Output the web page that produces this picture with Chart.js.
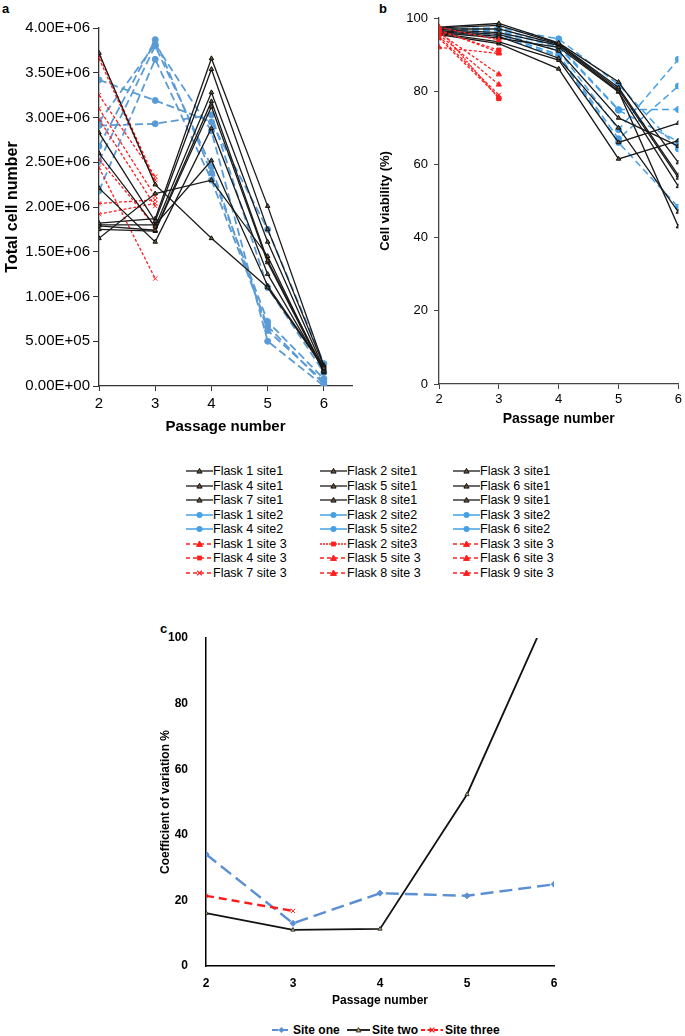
<!DOCTYPE html>
<html>
<head>
<meta charset="utf-8">
<script src="https://cdn.jsdelivr.net/npm/chart.js@4.4.0/dist/chart.umd.min.js"></script>
<style>
    body { margin: 0; background: #fff; font-family: "Liberation Sans", Arial, sans-serif; color: #000; }
    #page { position: relative; width: 685px; height: 1036px; overflow: hidden; }
    canvas { position: absolute; }
    .tag { position: absolute; font-weight: bold; font-size: 13px; line-height: 13px; }
    .leg { position: absolute; font-size: 12.5px; white-space: nowrap; display: flex; align-items: center; height: 14px; }
    .legc { position: absolute; font-size: 12px; font-weight: bold; white-space: nowrap; display: flex; align-items: center; height: 14px; }
    .leg svg, .legc svg { flex: none; }
</style>
</head>
<body>
<div id="page">
    <div class="tag" style="left:2px;top:2px">a</div>
    <div class="tag" style="left:379px;top:2px">b</div>
    <div class="tag" style="left:160px;top:622px">c</div>
    <canvas id="chartA" width="360" height="440" style="left:0;top:0"></canvas>
    <canvas id="chartB" width="345" height="430" style="left:340px;top:0"></canvas>
    <canvas id="chartC" width="434" height="402" style="left:140px;top:610px"></canvas>
    <div id="legendAB"></div>
    <div id="legendC"></div>
</div>
<script>
// --- data ---
const passages = [2, 3, 4, 5, 6];
const passagesSite3 = [2, 3];

// a) total cell number, one row per flask (P2..P6)
const cellsSite1 = [
    [3.72e6, 2.25e6, 1.65e6, 1.10e6, 0.20e6],
    [2.83e6, 1.84e6, 3.54e6, 1.75e6, 0.22e6],
    [2.60e6, 1.78e6, 3.28e6, 1.61e6, 0.19e6],
    [2.21e6, 1.61e6, 2.88e6, 1.25e6, 0.17e6],
    [1.82e6, 1.87e6, 3.66e6, 2.01e6, 0.23e6],
    [1.79e6, 1.74e6, 3.18e6, 1.40e6, 0.18e6],
    [1.75e6, 1.73e6, 3.12e6, 1.38e6, 0.16e6],
    [1.65e6, 2.15e6, 2.30e6, 1.45e6, 0.15e6],
    [1.80e6, 1.80e6, 2.52e6, 1.12e6, 0.21e6]
];
const cellsSite2 = [
    [3.42e6, 3.19e6, 2.95e6, 1.75e6, 0.25e6],
    [2.91e6, 2.93e6, 3.03e6, 1.10e6, 0.15e6],
    [2.68e6, 3.87e6, 2.38e6, 0.72e6, 0.08e6],
    [2.51e6, 3.80e6, 2.45e6, 0.62e6, 0.05e6],
    [2.18e6, 3.65e6, 2.30e6, 0.67e6, 0.02e6],
    [2.95e6, 3.82e6, 2.85e6, 0.50e6, 0.00e6]
];
const cellsSite3 = [
    [3.70e6, 2.30e6],
    [3.66e6, 2.27e6],
    [3.25e6, 2.34e6],
    [3.10e6, 2.12e6],
    [2.98e6, 2.01e6],
    [2.53e6, 1.78e6],
    [2.44e6, 1.20e6],
    [2.04e6, 2.08e6],
    [1.92e6, 2.04e6]
];

// b) cell viability (%)
const viabSite1 = [
    [97.5, 98.5, 93.2, 82.5, 60.5],
    [97.3, 98.0, 93.0, 81.0, 57.0],
    [97.0, 97.0, 92.8, 80.5, 56.3],
    [96.8, 96.0, 92.5, 80.0, 43.0],
    [96.5, 95.5, 91.0, 72.7, 65.0],
    [96.3, 95.0, 89.0, 70.0, 47.0],
    [96.0, 94.5, 92.0, 79.8, 54.0],
    [95.8, 93.5, 88.5, 66.0, 71.3],
    [95.5, 93.0, 86.1, 61.5, 66.5]
];
const viabSite2 = [
    [97.0, 97.3, 94.3, 81.8, 64.2],
    [96.8, 97.0, 92.5, 75.0, 75.0],
    [96.5, 96.5, 92.0, 74.8, 66.2],
    [96.3, 96.0, 91.0, 69.5, 88.7],
    [96.0, 95.5, 90.0, 67.0, 81.4],
    [95.8, 95.0, 89.5, 66.0, 48.3]
];
const viabSite3 = [
    [97.5, 94.0],
    [97.0, 78.0],
    [96.8, 90.6],
    [96.5, 91.2],
    [96.0, 84.6],
    [95.5, 81.8],
    [95.0, 79.0],
    [94.5, 78.4],
    [92.0, 90.3]
];

// c) coefficient of variation %
const cvSiteOne = [34.1, 13.0, 22.2, 21.4, 24.9];
const cvSiteTwo = [16.1, 11.0, 11.3, 52.3, 111.6];
const cvSiteThree = [21.4, 16.8];

const cellTicks = [0, 5e5, 1e6, 1.5e6, 2e6, 2.5e6, 3e6, 3.5e6, 4e6];
const site3Markers = ['triangle', 'rect', 'triangle', 'rect', 'triangle', 'triangle', 'crossRot', 'triangle', 'triangle'];

const FONT = '"Liberation Sans", Arial, sans-serif';
Chart.defaults.font.family = FONT;
Chart.defaults.color = '#000';

// --- styles ---
const styleSite1 = { color: '#1a1a1a', dash: [], width: 1.3, point: 'triangle', radius: 2.6, fill: '#6a5434', pointBorder: '#111' };
const styleSite2a = { color: '#5b9bd5', dash: [8, 4], width: 1.8, point: 'circle', radius: 3, fill: '#5b9bd5', pointBorder: '#5b9bd5' };
const styleSite2b = { color: '#45a0e6', dash: [7, 4], width: 1.5, point: 'circle', radius: 3, fill: '#45a0e6', pointBorder: '#45a0e6' };
const styleSite3 = (marker) => ({ color: '#ff1e1e', dash: [3, 2], width: 1.3, point: marker, radius: 3, fill: '#ff1e1e', pointBorder: '#ff1e1e' });

function sci(v) {
    if (v === 0) return '0.00E+00';
    const e = Math.floor(Math.log10(v) + 1e-9);
    const m = v / Math.pow(10, e);
    return m.toFixed(2) + 'E+' + String(e).padStart(2, '0');
}

function series(values, xs, st) {
    return {
        data: values.map((v, i) => ({ x: xs[i], y: v })),
        borderColor: st.color,
        backgroundColor: st.fill,
        borderWidth: st.width,
        borderDash: st.dash,
        pointStyle: st.point,
        pointRadius: st.radius,
        pointBorderColor: st.pointBorder,
        pointBackgroundColor: st.fill,
        pointBorderWidth: 1,
        tension: 0,
        fill: false
    };
}

function onlyIntegers(scale) {
    scale.ticks = scale.ticks.filter(t => Number.isInteger(t.value));
}

// --- panel a --- (first dataset ends up on top)
const dsA = [];
cellsSite1.forEach(row => dsA.push(series(row, passages, styleSite1)));
cellsSite3.forEach(row => dsA.push(series(row, passagesSite3, styleSite3('crossRot'))));
cellsSite2.forEach(row => dsA.push(series(row, passages, styleSite2a)));

new Chart(document.getElementById('chartA'), {
    type: 'line',
    data: { datasets: dsA },
    options: {
        responsive: false, animation: false, devicePixelRatio: 1,
        layout: { padding: { left: 0, top: 28, right: 8, bottom: 0 } },
        plugins: { legend: { display: false }, tooltip: { enabled: false } },
        scales: {
            x: {
                type: 'linear', min: 2, max: 6.5,
                afterBuildTicks: onlyIntegers,
                afterFit: s => { s.height = 54; },
                ticks: { stepSize: 1, includeBounds: false, padding: 4, font: { size: 15 }, color: '#000' },
                grid: { drawOnChartArea: false, drawTicks: true, tickLength: 5, color: '#333' },
                border: { color: '#333', width: 1.3 },
                title: { display: true, text: 'Passage number', font: { size: 15, weight: 'bold' }, color: '#000', padding: { top: 4, bottom: 4 } }
            },
            y: {
                min: 0, max: 4e6,
                afterBuildTicks: s => { s.ticks = cellTicks.map(v => ({ value: v })); },
                afterFit: s => { s.width = 99; },
                ticks: { callback: v => sci(v), padding: 3, font: { size: 15 }, color: '#000' },
                grid: { drawOnChartArea: false, drawTicks: true, tickLength: 6, color: '#333' },
                border: { color: '#333', width: 1.3 },
                title: { display: true, text: 'Total cell number', font: { size: 16, weight: 'bold' }, color: '#000', padding: { top: 3, bottom: 4 } }
            }
        }
    }
});

// --- panel b ---
const dsB = [];
viabSite3.forEach((row, i) => dsB.push(series(row, passagesSite3, Object.assign(styleSite3(site3Markers[i]), i === 1 ? { dash: [2, 1] } : {}))));
viabSite1.forEach(row => dsB.push(series(row, passages, styleSite1)));
viabSite2.forEach(row => dsB.push(series(row, passages, styleSite2b)));

new Chart(document.getElementById('chartB'), {
    type: 'line',
    data: { datasets: dsB },
    options: {
        responsive: false, animation: false, devicePixelRatio: 1,
        layout: { padding: { left: 34, top: 18, right: 6, bottom: 0 } },
        plugins: { legend: { display: false }, tooltip: { enabled: false } },
        scales: {
            x: {
                type: 'linear', min: 2, max: 6,
                afterBuildTicks: onlyIntegers,
                afterFit: s => { s.height = 46; },
                ticks: { stepSize: 1, padding: 3, font: { size: 13 }, color: '#000' },
                grid: { drawOnChartArea: false, drawTicks: true, tickLength: 5, color: '#444' },
                border: { color: '#444', width: 1.3 },
                title: { display: true, text: 'Passage number', font: { size: 14, weight: 'bold' }, color: '#000', padding: { top: 0, bottom: 2 } }
            },
            y: {
                min: 0, max: 100,
                afterFit: s => { s.width = 65; },
                ticks: { stepSize: 20, padding: 6, font: { size: 13 }, color: '#000' },
                grid: { drawOnChartArea: false, drawTicks: true, tickLength: 5, color: '#444' },
                border: { color: '#444', width: 1.3 },
                title: { display: true, text: 'Cell viability (%)', font: { size: 13, weight: 'bold' }, color: '#000', padding: { top: 4, bottom: 4 } }
            }
        }
    }
});

// --- panel c ---
const styleCvOne = { color: '#5b8fd4', dash: [13, 6], width: 2.4, point: 'rectRot', radius: 3, fill: '#5b8fd4', pointBorder: '#5b8fd4' };
const styleCvTwo = { color: '#111', dash: [], width: 1.8, point: 'triangle', radius: 2.4, fill: '#c8b46a', pointBorder: '#333' };
const styleCvThree = { color: '#ff1a1a', dash: [8, 5], width: 2.4, point: 'crossRot', radius: 3, fill: '#ff1a1a', pointBorder: '#ff1a1a' };

new Chart(document.getElementById('chartC'), {
    type: 'line',
    data: {
        datasets: [
            series(cvSiteThree, passagesSite3, styleCvThree),
            series(cvSiteOne, passages, styleCvOne),
            series(cvSiteTwo, passages, styleCvTwo)
        ]
    },
    options: {
        responsive: false, animation: false, devicePixelRatio: 1,
        layout: { padding: { left: 14, top: 28, right: 20, bottom: 0 } },
        plugins: { legend: { display: false }, tooltip: { enabled: false } },
        scales: {
            x: {
                type: 'linear', min: 2, max: 6,
                afterBuildTicks: onlyIntegers,
                afterFit: s => { s.height = 46; },
                ticks: { stepSize: 1, padding: 2, font: { size: 12, weight: 'bold' }, color: '#000' },
                grid: { display: false },
                border: { color: '#000', width: 1.5 },
                title: { display: true, text: 'Passage number', font: { size: 12, weight: 'bold' }, color: '#000', padding: { top: 4, bottom: 4 } }
            },
            y: {
                min: 0, max: 100,
                afterFit: s => { s.width = 52; },
                ticks: { stepSize: 20, padding: 10, font: { size: 12, weight: 'bold' }, color: '#000' },
                grid: { display: false },
                border: { color: '#000', width: 1.5 },
                title: { display: true, text: 'Coefficient of variation %', font: { size: 12, weight: 'bold' }, color: '#000', padding: { top: 4, bottom: 4 } }
            }
        }
    }
});

// --- legends (html) ---
function markerSvg(st, w) {
    const h = 12, cy = 6, cx = w / 2, r = Math.min(st.radius, 3.2);
    let m = '';
    if (st.point === 'triangle') {
        m = `<polygon points="${cx},${cy - r} ${cx + r},${cy + r * 0.8} ${cx - r},${cy + r * 0.8}" fill="${st.fill}" stroke="${st.pointBorder}" stroke-width="1"/>`;
    } else if (st.point === 'circle') {
        m = `<circle cx="${cx}" cy="${cy}" r="${r}" fill="${st.fill}"/>`;
    } else if (st.point === 'rect') {
        m = `<rect x="${cx - r * 0.8}" y="${cy - r * 0.8}" width="${r * 1.6}" height="${r * 1.6}" fill="${st.fill}"/>`;
    } else if (st.point === 'rectRot') {
        m = `<polygon points="${cx},${cy - r} ${cx + r},${cy} ${cx},${cy + r} ${cx - r},${cy}" fill="${st.fill}"/>`;
    } else if (st.point === 'crossRot') {
        m = `<path d="M${cx - r * 0.8},${cy - r * 0.8}L${cx + r * 0.8},${cy + r * 0.8}M${cx + r * 0.8},${cy - r * 0.8}L${cx - r * 0.8},${cy + r * 0.8}" stroke="${st.pointBorder}" stroke-width="1.3"/>`;
    }
    const dash = st.dash.length ? `stroke-dasharray="${st.dash.join(',')}"` : '';
    return `<svg width="${w}" height="${h}"><line x1="0" y1="${cy}" x2="${w}" y2="${cy}" stroke="${st.color}" stroke-width="${Math.min(st.width, 2)}" ${dash}/>${m}</svg>`;
}

const legendItems = [];
for (let i = 1; i <= 9; i++) legendItems.push({ text: `Flask ${i} site1`, st: styleSite1 });
for (let i = 1; i <= 6; i++) legendItems.push({ text: `Flask ${i} site2`, st: Object.assign({}, styleSite2b, { dash: [] }) });
for (let i = 1; i <= 9; i++) {
    const st = Object.assign(styleSite3(site3Markers[i - 1]), i === 2 ? { dash: [2, 1] } : { dash: [4, 3] });
    legendItems.push({ text: i === 2 ? 'Flask 2 site3' : `Flask ${i} site 3`, st: st });
}
const legendCols = [186, 320, 453];
const legendAB = document.getElementById('legendAB');
legendItems.forEach((item, k) => {
    const row = Math.floor(k / 3), col = k % 3;
    const div = document.createElement('div');
    div.className = 'leg';
    div.style.left = legendCols[col] + 'px';
    div.style.top = (464 + row * 14.5) + 'px';
    div.innerHTML = markerSvg(item.st, 27) + `<span>${item.text}</span>`;
    legendAB.appendChild(div);
});

const legendCItems = [
    { text: 'Site one', st: styleCvOne, x: 272, w: 19 },
    { text: 'Site two', st: styleCvTwo, x: 347, w: 23 },
    { text: 'Site three', st: styleCvThree, x: 421, w: 22 }
];
const legendC = document.getElementById('legendC');
legendCItems.forEach(item => {
    const div = document.createElement('div');
    div.className = 'legc';
    div.style.left = item.x + 'px';
    div.style.top = '1023px';
    div.innerHTML = markerSvg(Object.assign({}, item.st, { dash: item.st.dash.map(d => d / 2) }), item.w) + `<span style="margin-left:2px">${item.text}</span>`;
    legendC.appendChild(div);
});
</script>
</body>
</html>
